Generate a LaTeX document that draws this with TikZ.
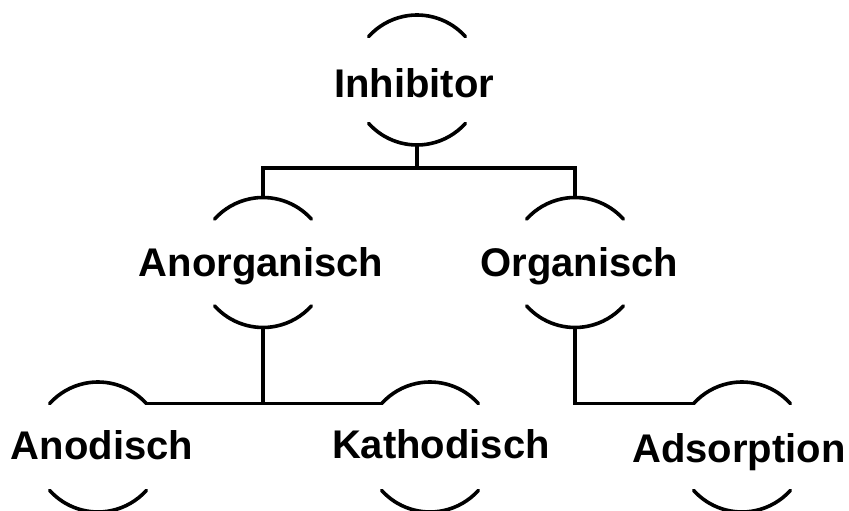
\documentclass[tikz,border=0pt]{standalone}
\usepackage{fontspec}
\setmainfont{Liberation Sans}
\begin{document}
\begin{tikzpicture}[x=1pt,y=1pt,
  ring/.style={circle,minimum size=130pt,inner sep=0pt,outer sep=0pt},
  lbl/.style={anchor=base,inner sep=0pt,font=\fontsize{40}{48}\selectfont\bfseries},
  ln/.style={line width=3.6pt,line cap=round,line join=miter}]
\useasboundingbox (0,0) rectangle (849,511);
% ring nodes
\node[ring] (inh)  at (417,431) {};
\node[ring] (ano)  at (263,248.5) {};
\node[ring] (org)  at (575,248.5) {};
\node[ring] (anod) at (98,64) {};
\node[ring] (kath) at (430,64) {};
\node[ring] (ads)  at (742,64) {};
% labels
\node[lbl] (tinh)  at (414,413) {Inhibitor};
\node[lbl] (tano)  at (261,234) {Anorganisch};
\node[lbl] (torg)  at (579.5,234) {Organisch};
\node[lbl] (tanod) at (102,51) {Anodisch};
\node[lbl] (tkath) at (441,52) {Kathodisch};
\node[lbl] (tads)  at (739,48) {Adsorption};
% arcs
\foreach \n in {inh,ano,org,anod,kath,ads}{
  \draw[ln] (\n.42) arc (42:138:65pt);
  \draw[ln] (\n.222) arc (222:318:65pt);
}
% connectors
\draw[ln,line cap=butt] (inh.south) -- ++(0,-23) coordinate (bar);
\draw[ln,line cap=butt] (ano.north) |- (bar) -| (org.north);
\draw[ln,line cap=butt] (ano.south) -- (ano.south |- anod.42);
\draw[ln,line cap=butt] (anod.42) -- (kath.138);
\draw[ln,line cap=butt] (org.south) |- (ads.138);
\end{tikzpicture}
\end{document}
